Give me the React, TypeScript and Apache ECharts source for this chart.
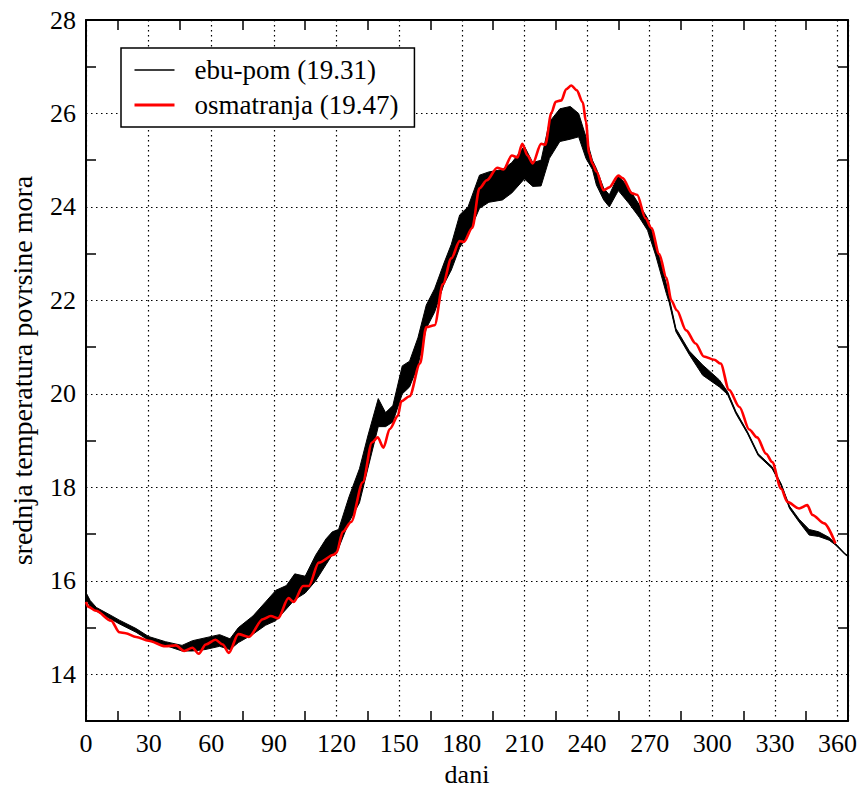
import React, { useEffect, useRef } from 'react';
import * as echarts from 'echarts';

// ---- data ----
// ebu-pom model: lower / upper envelope of the (oscillating) curve
const ebuDays = [0, 2, 5, 12, 16, 24, 30, 38, 46, 51, 57, 64, 69, 73, 80, 86, 91, 96, 100, 105, 110, 115, 118, 121, 126, 131, 135, 140, 143.5, 147, 151.5, 155, 159, 163, 167, 171.5, 175, 179, 183, 188.5, 193, 199.5, 204, 210, 214, 218, 222, 227, 232, 236, 239.5, 242.6, 244.5, 248, 250.7, 255, 260, 265, 269, 273, 278, 279.4, 282.6, 289, 295.4, 303.4, 307.3, 311.3, 316.9, 322, 328.7, 333, 337, 341.6, 346.4, 351, 356, 359, 363.7, 365];
const ebuLow = [15.62, 15.45, 15.35, 15.18, 15.08, 14.9, 14.73, 14.62, 14.5, 14.5, 14.53, 14.6, 14.53, 14.68, 14.86, 15.05, 15.15, 15.4, 15.6, 15.74, 16.0, 16.35, 16.56, 16.7, 17.26, 17.67, 18.4, 19.3, 19.3, 19.4, 20.0, 20.15, 20.6, 21.4, 21.75, 22.35, 22.65, 23.13, 23.4, 23.97, 24.1, 24.15, 24.3, 24.6, 24.44, 24.45, 25.04, 25.4, 25.45, 25.5, 25.04, 24.8, 24.47, 24.15, 24.0, 24.35, 24.08, 23.78, 23.5, 22.95, 22.15, 21.95, 21.33, 20.84, 20.4, 20.15, 19.99, 19.58, 19.15, 18.68, 18.4, 18.04, 17.55, 17.26, 16.98, 16.95, 16.87, 16.77, 16.56, 16.52];
const ebuHigh = [15.75, 15.58, 15.43, 15.26, 15.16, 14.98, 14.81, 14.7, 14.62, 14.72, 14.78, 14.85, 14.76, 15.0, 15.25, 15.55, 15.8, 15.9, 16.15, 16.1, 16.55, 16.9, 17.05, 17.1, 17.8, 18.4, 19.1, 19.9, 19.6, 19.75, 20.6, 20.7, 21.2, 21.9, 22.25, 22.8, 23.2, 23.83, 24.0, 24.68, 24.75, 24.8, 24.95, 25.3, 24.95, 25.0, 25.82, 26.1, 26.15, 26.0, 25.5, 25.0, 24.82, 24.4, 24.26, 24.68, 24.4, 24.05, 23.76, 23.2, 22.35, 22.05, 21.4, 20.92, 20.62, 20.3, 20.05, 19.63, 19.19, 18.72, 18.44, 18.08, 17.6, 17.32, 17.1, 17.05, 16.93, 16.8, 16.58, 16.54];

// osmatranja (observations)
const obsDays = [0, 1, 4.8, 12, 16, 19, 24, 30, 38, 43, 47, 51, 54, 57.4, 62, 65.5, 68.4, 73, 78, 84.7, 88.5, 92, 97, 99.5, 104, 106.7, 111.5, 118.7, 120, 123, 127, 132.6, 137, 139.7, 142.5, 145.5, 149.4, 151, 155, 160, 163, 167, 171, 175, 179, 181, 185, 188.5, 192, 197, 200, 204, 206.7, 209, 211.5, 214, 218, 220, 223, 225, 227.7, 230, 232.5, 235, 238, 239.5, 241, 242.6, 244.5, 248, 250.7, 255, 257, 261.7, 264, 268, 270.8, 274.6, 278, 280.4, 283, 287.5, 292, 296, 301, 304, 308, 313, 317.7, 321.5, 325.8, 328.7, 333, 336, 341.6, 345.5, 348, 353.6, 359];
const obsTemp = [15.55, 15.45, 15.36, 15.15, 14.9, 14.88, 14.8, 14.72, 14.6, 14.62, 14.5, 14.57, 14.44, 14.64, 14.74, 14.64, 14.46, 14.86, 14.8, 15.18, 15.25, 15.2, 15.63, 15.55, 15.89, 15.89, 16.39, 16.56, 16.6, 17.05, 17.26, 18.11, 18.96, 19.07, 18.85, 19.25, 19.53, 19.84, 19.95, 20.65, 21.43, 21.47, 22.35, 22.9, 23.27, 23.25, 23.55, 24.4, 24.57, 24.84, 24.8, 25.1, 25.06, 25.35, 25.1, 24.93, 25.35, 25.33, 26.02, 26.25, 26.28, 26.52, 26.6, 26.5, 26.24, 25.82, 25.15, 24.93, 24.76, 24.36, 24.42, 24.67, 24.62, 24.29, 24.26, 23.76, 23.55, 22.99, 22.49, 22.0, 21.79, 21.36, 21.08, 20.8, 20.73, 20.65, 20.09, 19.72, 19.24, 19.07, 18.72, 18.54, 17.97, 17.69, 17.55, 17.62, 17.41, 17.23, 16.8];

const ebuName = 'ebu-pom (19.31)';
const obsName = 'osmatranja (19.47)';
const xTitle = 'dani';
const yTitle = 'srednja temperatura povrsine mora';

const FONT = 'Liberation Serif';

export default function App() {
  const ref = useRef<HTMLDivElement>(null);

  useEffect(() => {
    if (!ref.current) return;
    const chart = echarts.init(ref.current, null, { renderer: 'svg' });

    const gridDots = { color: '#000', width: 1.2, type: [1.5, 3.5] as any };
    const axisLine = { show: true, onZero: false, lineStyle: { color: '#000', width: 2 } };
    const minorTick = { show: true, splitNumber: 2, length: 10, lineStyle: { color: '#000', width: 1.5 } };

    const option: any = {
      animation: false,
      backgroundColor: '#fff',
      grid: { left: 86, right: 11, top: 20, bottom: 64, containLabel: false },
      legend: {
        show: true,
        orient: 'vertical',
        left: 121,
        top: 48,
        data: [
          { name: ebuName, lineStyle: { color: '#000', width: 1.5 } },
          { name: obsName, lineStyle: { color: '#ff0000', width: 3 } },
        ],
        borderColor: '#000',
        borderWidth: 1.5,
        backgroundColor: '#fff',
        padding: [7, 16, 7, 12],
        itemWidth: 40,
        itemHeight: 14,
        itemGap: 5,
        selectedMode: false,
        itemStyle: { color: 'rgba(0,0,0,0)', borderWidth: 0, opacity: 0 },
        textStyle: { fontSize: 27, fontFamily: FONT, color: '#000', lineHeight: 30, padding: [0, 0, 0, 15] },
      },
      xAxis: [
        {
          type: 'value', min: 0, max: 365, interval: 30, position: 'bottom',
          axisLine, axisTick: { show: false, inside: true }, minorTick,
          axisLabel: {
            color: '#000', fontSize: 26, fontFamily: FONT, margin: 9,
            formatter: (v: number) => (v % 30 === 0 ? String(v) : ''),
          },
          splitLine: { show: true, lineStyle: gridDots },
          name: xTitle, nameLocation: 'middle', nameGap: 34,
          nameTextStyle: { color: '#000', fontSize: 26, fontFamily: FONT },
        },
        {
          type: 'value', min: 0, max: 365, interval: 30, position: 'top',
          axisLine, axisTick: { show: false, inside: true }, minorTick,
          axisLabel: { show: false }, splitLine: { show: false },
        },
      ],
      yAxis: [
        {
          type: 'value', min: 13, max: 28, minInterval: 2, maxInterval: 2, position: 'left',
          axisLine, axisTick: { show: false, inside: true }, minorTick,
          axisLabel: {
            color: '#000', fontSize: 26, fontFamily: FONT, margin: 10,
            formatter: (v: number) => (v % 2 === 0 ? String(v) : ''),
          },
          splitLine: { show: true, lineStyle: gridDots },
          name: yTitle, nameLocation: 'middle', nameGap: 50, nameRotate: 90,
          nameTextStyle: { color: '#000', fontSize: 28, fontFamily: FONT },
        },
        {
          type: 'value', min: 13, max: 28, minInterval: 2, maxInterval: 2, position: 'right',
          axisLine, axisTick: { show: false, inside: true }, minorTick,
          axisLabel: { show: false }, splitLine: { show: false },
        },
      ],
      series: [
        {
          // dense oscillation band of the model, drawn between its envelopes
          name: 'ebu-band', type: 'custom', z: 2,
          data: [[ebuDays[0], ebuLow[0]]],
          encode: { x: 0, y: 1 },
          renderItem: (params: any, api: any) => {
            if (params.dataIndex !== 0) return null;
            const pts: number[][] = [];
            for (let i = 0; i < ebuDays.length; i++) pts.push(api.coord([ebuDays[i], ebuHigh[i]]));
            for (let i = ebuDays.length - 1; i >= 0; i--) pts.push(api.coord([ebuDays[i], ebuLow[i]]));
            return {
              type: 'polygon',
              shape: { points: pts },
              style: { fill: '#000', stroke: '#000', lineWidth: 1 },
            };
          },
        },
        {
          name: ebuName, type: 'line', symbol: 'none', color: '#000',
          data: ebuDays.map((d, i) => [d, (ebuLow[i] + ebuHigh[i]) / 2]),
          lineStyle: { color: '#000', width: 1 }, z: 2,
        },
        {
          name: obsName, type: 'line', symbol: 'none', color: '#ff0000',
          smooth: 0.3, smoothMonotone: 'x',
          data: obsDays.map((d, i) => [d, obsTemp[i]]),
          lineStyle: { color: '#ff0000', width: 2.6 }, z: 3,
        },
      ],
    };

    chart.setOption(option);
    return () => chart.dispose();
  }, []);

  return (
    <div
      ref={ref}
      style={{ position: 'absolute', left: 0, top: 0, width: 860, height: 792, background: '#fff' }}
    />
  );
}
